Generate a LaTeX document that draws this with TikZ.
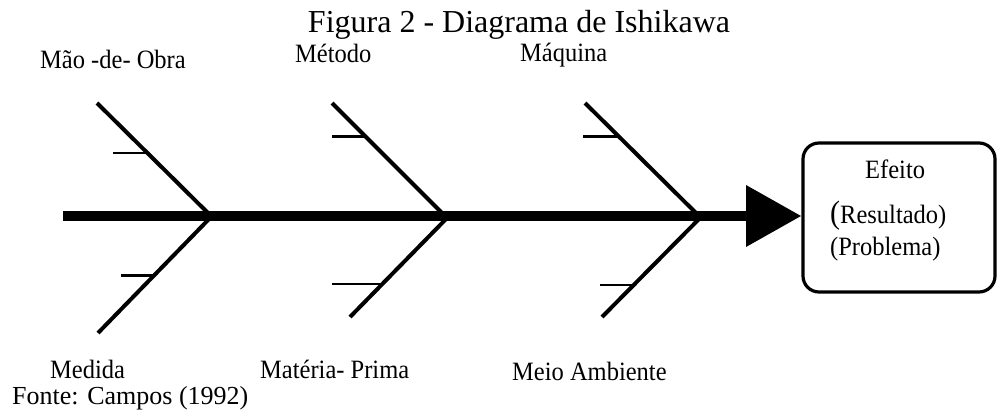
\documentclass[tikz,border=0pt]{standalone}
\usepackage{graphicx}
\usepackage{fontspec}
\setmainfont{Liberation Serif}
\usetikzlibrary{calc}
\newcommand\talltxt[1]{\scalebox{1}[1.08]{#1}}
\begin{document}
\begin{tikzpicture}[x=1pt,y=-1pt,
  lbl/.style={anchor=base west,inner sep=0pt,font=\fontsize{24.5}{26}\selectfont},
  bone/.style={line width=4pt},
  tick/.style={line width=2.5pt},
  spine/.style={line width=9.5pt},
  effbox/.style={draw,line width=3.2pt,rounded corners=16pt}]
\useasboundingbox (0,0) rectangle (998,420);
% title
\node[lbl,anchor=base,font=\fontsize{32}{34}\selectfont] (title) at (519,33) {Figura 2 - Diagrama de Ishikawa};
% spine
\coordinate (tail) at (63,216);
\coordinate (head) at (750,216);
\coordinate (tip) at (801,216);
\draw[spine] (tail) -- (head);
\fill (746,185) -- (tip) -- (746,247) -- cycle;
% effect box
\draw[effbox] (803,143) rectangle (995,292);
\coordinate (box) at (803,216);
\node[lbl] (e1) at (865,178) {\talltxt{Efeito}};
\node[lbl] (e2) at (830,223) {\talltxt{{\fontsize{30}{30}\selectfont(}Resultado)}};
\node[lbl] (e3) at (830,255) {\talltxt{(Problema)}};
% upper bones
\coordinate (j1) at (209,214);
\coordinate (u1) at (97,103);
\coordinate (j2) at (443,214);
\coordinate (u2) at (332,103);
\coordinate (j3) at (697,214);
\coordinate (u3) at (585,103);
\draw[bone] (u1) -- (j1);
\draw[bone] (u2) -- (j2);
\draw[bone] (u3) -- (j3);
% lower bones
\coordinate (k1) at (210,218);
\coordinate (d1) at (98,333);
\coordinate (k2) at (447,218);
\coordinate (d2) at (350,317);
\coordinate (k3) at (700,218);
\coordinate (d3) at (602,317);
\draw[bone] (k1) -- (d1);
\draw[bone] (k2) -- (d2);
\draw[bone] (k3) -- (d3);
% ticks
\coordinate (t1) at ($(u1)!0.45!(j1)$);
\coordinate (t2) at ($(u2)!0.30!(j2)$);
\coordinate (t3) at ($(u3)!0.30!(j3)$);
\coordinate (t4) at ($(k1)!0.50!(d1)$);
\coordinate (t5) at ($(k2)!0.667!(d2)$);
\coordinate (t6) at ($(k3)!0.677!(d3)$);
\coordinate (s1) at (113,0);
\coordinate (s2) at (332,0);
\coordinate (s3) at (583,0);
\coordinate (s4) at (121,0);
\coordinate (s5) at (332,0);
\coordinate (s6) at (600,0);
\draw[tick] (t1 -| s1) -- (t1);
\draw[tick] (t2 -| s2) -- (t2);
\draw[tick] (t3 -| s3) -- (t3);
\draw[tick] (t4 -| s4) -- (t4);
\draw[tick] (t5 -| s5) -- (t5);
\draw[tick] (t6 -| s6) -- (t6);
% labels
\node[lbl] (l1) at (40,68) {\talltxt{Mão -de- Obra}};
\node[lbl] (l2) at (295,63) {\talltxt{Método}};
\node[lbl] (l3) at (520,62) {\talltxt{Máquina}};
\node[lbl] (l4) at (50,378) {\talltxt{Medida}};
\node[lbl] (l5) at (260,378) {\talltxt{Matéria- Prima}};
\node[lbl] (l6) at (512,380) {\talltxt{Meio Ambiente}};
\node[lbl,font=\fontsize{26}{28}\selectfont] (src) at (12,404) {Fonte: Campos (1992)};
\end{tikzpicture}
\end{document}
